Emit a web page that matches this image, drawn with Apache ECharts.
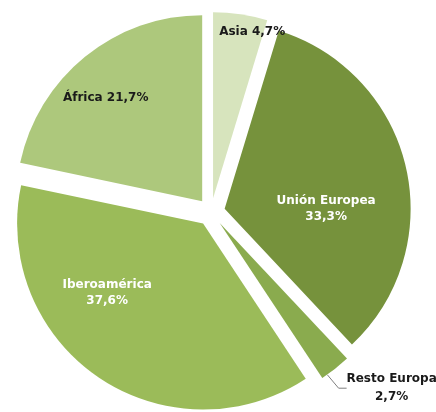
<!DOCTYPE html>
<html><head><meta charset="utf-8">
<script src="https://cdn.jsdelivr.net/npm/echarts@6/dist/echarts.min.js"></script>
<style>html,body{margin:0;padding:0;background:#fff}#c{width:436px;height:412px}</style>
</head><body><div id="c"></div>
<script>
const categories = ['Asia', 'Unión Europea', 'Resto Europa', 'Iberoamérica', 'África'];
const shares = [4.7, 33.3, 2.7, 37.6, 21.7];
const colors = ['#d7e4bd', '#76923c', '#8aab4e', '#9bbb59', '#adc87c'];

const PIE_RADIUS = 186;
const fmt = v => v.toFixed(1).replace('.', ',') + '%';
const twoLine = [false, true, true, true, false];
const inside = [true, true, false, true, true];
const labelColor = ['#1a1a1a', '#ffffff', '#1a1a1a', '#ffffff', '#1a1a1a'];
const labelShift = [[25, -71], [8, 22], [-7, 6], [-42, -10], [-36, -29]];

const data = categories.map((name, i) => {
  const item = {
    name: name,
    value: shares[i],
    selected: true,
    itemStyle: { color: colors[i] },
    label: {
      position: inside[i] ? 'inside' : 'outside',
      color: labelColor[i],
      formatter: name + (twoLine[i] ? '\n' : ' ') + fmt(shares[i]),
      align: 'center'
    },
    labelLine: { show: !inside[i] }
  };
  if (!inside[i]) {
    item.label.formatter = '{t|' + name + '}\n{t|' + fmt(shares[i]) + '}';
    item.label.align = 'left';
    item.label.distanceToLabelLine = 1;
    item.label.rich = {
      t: { width: 88, align: 'center', color: labelColor[i], fontFamily: 'DejaVu Sans',
           fontWeight: 'bold', fontSize: 12, lineHeight: 18 }
    };
  }
  return item;
});

const chart = echarts.init(document.getElementById('c'), null, { renderer: 'canvas' });
chart.setOption({
  animation: false,
  series: [{
    type: 'pie',
    center: [211, 212],
    radius: PIE_RADIUS,
    startAngle: 90,
    clockwise: true,
    selectedMode: 'multiple',
    selectedOffset: 14,
    avoidLabelOverlap: false,
    emphasis: { disabled: true },
    select: { itemStyle: { borderWidth: 0 } },
    label: {
      show: true,
      fontFamily: 'DejaVu Sans',
      fontWeight: 'bold',
      fontSize: 12,
      lineHeight: 16
    },
    labelLine: {
      length: 17,
      length2: 8,
      lineStyle: { color: '#7f7f7f', width: 1 }
    },
    labelLayout: function (p) {
      const s = labelShift[p.dataIndex];
      const res = { dx: s[0], dy: s[1] };
      const pts = p.labelLinePoints;
      if (pts && pts.length === 3) {
        // radial direction of the first segment -> slice centre, then slide start along the arc
        const vx = pts[1][0] - pts[0][0], vy = pts[1][1] - pts[0][1];
        const len = Math.sqrt(vx * vx + vy * vy) || 1;
        const ux = vx / len, uy = vy / len;
        const cx = pts[0][0] - PIE_RADIUS * ux, cy = pts[0][1] - PIE_RADIUS * uy;
        const th = Math.atan2(ux, -uy) + 3 * Math.PI / 180;
        const start = [cx + PIE_RADIUS * Math.sin(th), cy - PIE_RADIUS * Math.cos(th)];
        const end = [pts[2][0] + s[0], pts[2][1] + s[1]];
        res.labelLinePoints = [start, [end[0] - 8, end[1]], end];
      }
      return res;
    },
    data: data
  }]
});
</script></body></html>
